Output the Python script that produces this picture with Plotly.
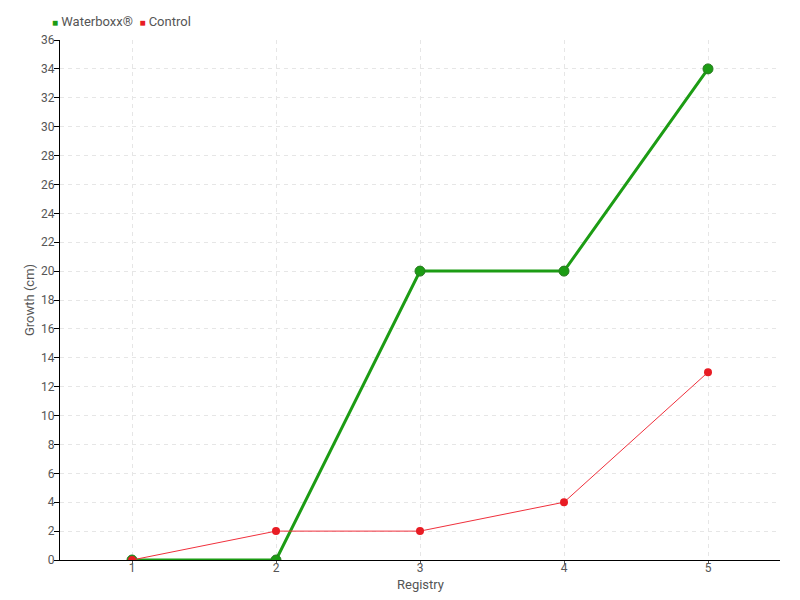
import plotly.graph_objects as go

registry = [1, 2, 3, 4, 5]
waterboxx = [0, 0, 20, 20, 34]
control = [0, 2, 2, 4, 13]
y_ticks = list(range(0, 37, 2))

GREEN = '#1c9c14'
RED = '#e81c24'
FONT = "Roboto"

fig = go.Figure()

fig.add_trace(go.Scatter(
    x=registry,
    y=waterboxx,
    mode='lines+markers',
    name='Waterboxx®',
    line=dict(color=GREEN, width=3),
    marker=dict(color=GREEN, size=10, line=dict(color='#2a7a22', width=1))
))

fig.add_trace(go.Scatter(
    x=registry,
    y=control,
    mode='lines+markers',
    name='Control',
    line=dict(color='#f0303c', width=1),
    marker=dict(color=RED, size=8)
))

# compact legend drawn as text (small squares right next to the names)
legend_text = (
    f'<span style="color:{GREEN};font-size:10px">■</span> Waterboxx®  '
    f'<span style="color:{RED};font-size:10px">■</span> Control'
)
fig.add_annotation(
    text=legend_text,
    xref='paper', yref='paper',
    x=-0.014, y=1.035,
    xanchor='left', yanchor='middle',
    showarrow=False,
    font=dict(family=FONT, size=13, color='#555555'),
)

# axis titles placed close to the tick labels
fig.add_annotation(
    text='Registry',
    xref='paper', yref='paper',
    x=0.5, y=-0.048,
    xanchor='center', yanchor='middle',
    showarrow=False,
    font=dict(family=FONT, size=13, color='#555555'),
)
fig.add_annotation(
    text='Growth (cm)',
    xref='paper', yref='paper',
    x=-0.043, y=0.5,
    xanchor='center', yanchor='middle',
    textangle=-90,
    showarrow=False,
    font=dict(family=FONT, size=13, color='#555555'),
)

fig.update_layout(
    width=800,
    height=600,
    paper_bgcolor='white',
    plot_bgcolor='white',
    font=dict(family=FONT, size=12, color='#555555'),
    margin=dict(l=52, r=28, t=32, b=48, autoexpand=False),
    showlegend=False,
    xaxis=dict(
        range=[0.5, 5.5],
        tickvals=registry,
        showgrid=True,
        gridcolor='#e6e6e6',
        griddash='4px,4px',
        showline=True,
        linecolor='black',
        linewidth=1,
        ticks='outside',
        ticklen=3,
        tickcolor='#555555',
        ticklabelstandoff=-6,
        zeroline=False,
    ),
    yaxis=dict(
        range=[0, 36],
        tickvals=y_ticks,
        showgrid=True,
        gridcolor='#e6e6e6',
        griddash='4px,4px',
        showline=True,
        linecolor='black',
        linewidth=1,
        ticks='outside',
        ticklen=5,
        tickcolor='black',
        ticklabelstandoff=-3,
        zeroline=False,
    ),
)

fig.write_html("out.html")
